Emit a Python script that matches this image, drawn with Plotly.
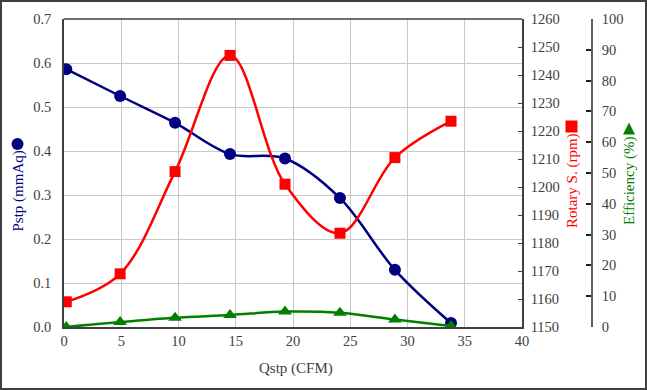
import plotly.graph_objects as go

qstp = [0.2, 4.9, 9.7, 14.5, 19.3, 24.1, 28.9, 33.8]
pstp = [0.586, 0.525, 0.464, 0.393, 0.383, 0.293, 0.130, 0.009]
rpm = [1159, 1169, 1205.5, 1247, 1201, 1183.5, 1210.5, 1223.5]
eff = [0.0, 1.6, 3.0, 3.9, 5.0, 4.6, 2.4, 0.3]

x_ticks = [0, 5, 10, 15, 20, 25, 30, 35, 40]

W, H = 647, 390
ML, MR, MT, MB = 64, 55, 19, 63
PW = W - ML - MR
PH = H - MT - MB
plot_right = 522
eff_axis_x = 592
xdom_end = (plot_right - ML) / PW

font_family = "Liberation Serif"
tick_color = "#404040"

fig = go.Figure()
fig.add_trace(go.Scatter(x=qstp, y=pstp, mode="lines+markers", yaxis="y",
                         line=dict(color="#000080", width=2.5, shape="spline"),
                         marker=dict(symbol="circle", size=12, color="#000080"),
                         showlegend=False))
fig.add_trace(go.Scatter(x=qstp, y=rpm, mode="lines+markers", yaxis="y2",
                         line=dict(color="#FF0000", width=2.5, shape="spline"),
                         marker=dict(symbol="square", size=11, color="#FF0000"),
                         showlegend=False))
fig.add_trace(go.Scatter(x=qstp, y=eff, mode="lines+markers", yaxis="y3",
                         line=dict(color="#008000", width=2.5, shape="spline"),
                         marker=dict(symbol="triangle-up", size=12, color="#008000"),
                         showlegend=False))

axis_font = dict(family=font_family, size=14.5, color=tick_color)

fig.update_layout(
    width=W, height=H,
    margin=dict(l=ML, r=MR, t=MT, b=MB),
    paper_bgcolor="white", plot_bgcolor="white",
    font=dict(family=font_family),
    xaxis=dict(domain=[0, xdom_end], range=[0, 40], tickvals=x_ticks,
               showgrid=True, gridcolor="#c8c8c8", gridwidth=1,
               showline=True, linecolor="#404040", linewidth=1.5, mirror=False,
               ticks="", tickfont=axis_font, zeroline=False),
    yaxis=dict(range=[0, 0.7], dtick=0.1, tickformat=".1f",
               showgrid=True, gridcolor="#c8c8c8", gridwidth=1,
               showline=True, linecolor="#404040", linewidth=1.5,
               ticks="", ticklabelstandoff=8, tickfont=axis_font, zeroline=False),
    yaxis2=dict(range=[1150, 1260], dtick=10, overlaying="y", side="right",
                anchor="x", showgrid=False, showline=True, linecolor="#404040",
                linewidth=1.5, ticks="inside", ticklen=4, tickcolor="#404040",
                ticklabelstandoff=4,
                tickfont=axis_font, zeroline=False),
    yaxis3=dict(range=[0, 100], dtick=10, overlaying="y", side="right",
                anchor="free", position=min(1.0, (eff_axis_x - ML) / PW),
                showgrid=False,
                showline=True, linecolor="#606060", linewidth=1.5,
                ticks="inside", ticklen=5, tickwidth=1.5, tickcolor="#202020",
                ticklabelstandoff=6,
                tickfont=axis_font, zeroline=False),
)

# top border of plot area
fig.add_shape(type="line", xref="paper", yref="paper", x0=0, x1=xdom_end, y0=1, y1=1,
              line=dict(color="#404040", width=1.5))

# outer frame
fig.add_shape(type="rect", xref="paper", yref="paper",
              x0=(1 - ML) / PW, x1=(W - 1 - ML) / PW,
              y0=-(MB - 1) / PH, y1=1 + (MT - 1) / PH,
              line=dict(color="#404040", width=2))

def px_x(px):
    return (px - ML) / PW

def px_y(py):
    return 1 - (py - MT) / PH

# legend-like symbols in axis titles
def symbol_shape(kind, cx, cy, s, color):
    x0, x1 = px_x(cx - s / 2), px_x(cx + s / 2)
    y0, y1 = px_y(cy + s / 2), px_y(cy - s / 2)
    if kind == "circle":
        fig.add_shape(type="circle", xref="paper", yref="paper",
                      x0=x0, x1=x1, y0=y0, y1=y1,
                      fillcolor=color, line=dict(width=0))
    elif kind == "square":
        fig.add_shape(type="rect", xref="paper", yref="paper",
                      x0=x0, x1=x1, y0=y0, y1=y1,
                      fillcolor=color, line=dict(width=0))
    else:
        path = "M {} {} L {} {} L {} {} Z".format(
            px_x(cx), px_y(cy - s / 2), x1, y0, x0, y0)
        fig.add_shape(type="path", xref="paper", yref="paper", path=path,
                      fillcolor=color, line=dict(width=0))

symbol_shape("circle", 17.5, 144, 12, "#000080")
symbol_shape("square", 571.5, 126.5, 12, "#FF0000")
symbol_shape("triangle", 629, 128.5, 12, "#008000")

def title(text, cx, cy, color, angle):
    fig.add_annotation(text=text, xref="paper", yref="paper",
                       x=px_x(cx), y=px_y(cy), xanchor="center", yanchor="middle",
                       showarrow=False, textangle=angle,
                       font=dict(family=font_family, size=15, color=color))

title("Qstp (CFM)", 296, 368, tick_color, 0)
title("Pstp (mmAq)", 17.5, 191, "#000080", -90)
title("Rotary S. (rpm)", 572, 181, "#FF0000", -90)
title("Efficiency (%)", 629, 181, "#008000", -90)

fig.write_html("out.html", config={"displayModeBar": False},
               post_script="document.body.style.margin='0';document.body.style.overflow='hidden';")
